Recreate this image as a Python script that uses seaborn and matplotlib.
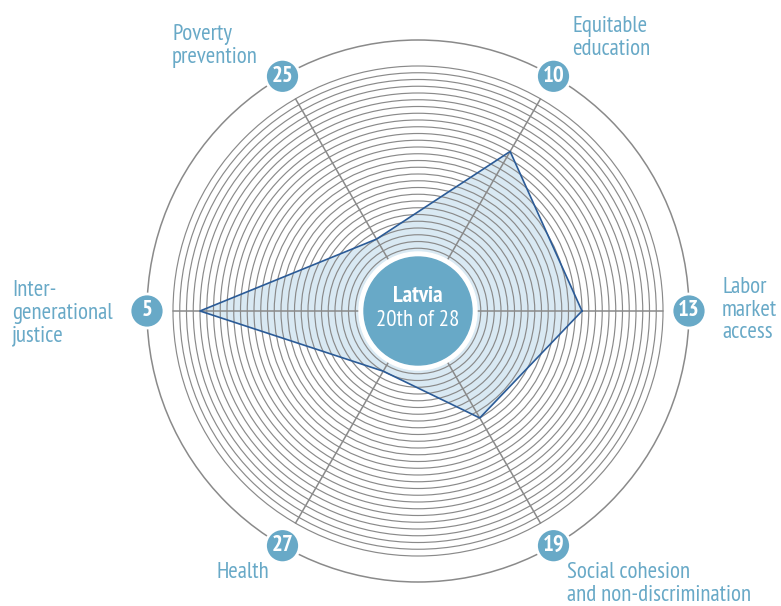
import numpy as np
import pandas as pd
import seaborn as sns
import matplotlib.pyplot as plt
from matplotlib.patches import Circle

# data
country = "Latvia"
overall = "20th of 28"
n_countries = 28
dimensions = ["Labor\nmarket\naccess", "Equitable\neducation", "Poverty\nprevention",
              "Inter-\ngenerational\njustice", "Health",
              "Social cohesion\nand non-discrimination"]
ranks = [13, 10, 25, 5, 27, 19]

BLUE = "#68a9c7"
DARK = "#2b5b97"
FILL = "#d9e9f3"
GRID = "#8a8a8a"

sns.set_theme(style="white")
plt.rcParams['font.family'] = ['PT Sans Narrow', 'DejaVu Sans']

cx, cy = 418, 311          # centre in pixels
r0, step = 56, 6.75        # ring radius = r0 + step * (n+1-rank)
r_outer = 271


def radius(rank):
    return r0 + step * (n_countries + 1 - rank)


angles = np.deg2rad(np.arange(len(ranks)) * 60)

fig = plt.figure(figsize=(7.81, 6.06), dpi=100)
ax = fig.add_axes([0, 0, 1, 1])
ax.set_xlim(0, 781)
ax.set_ylim(606, 0)
ax.axis('off')

# polygon fill
df = pd.DataFrame({'dim': dimensions, 'rank': ranks, 'angle': angles})
df['r'] = radius(df['rank'])
df['x'] = cx + df['r'] * np.cos(df['angle'])
df['y'] = cy - df['r'] * np.sin(df['angle'])
closed = pd.concat([df, df.iloc[:1]], ignore_index=True)
ax.fill(df['x'], df['y'], color=FILL, zorder=1, lw=0)

# rings
for rk in range(1, n_countries + 1):
    ax.add_patch(Circle((cx, cy), radius(rk), fill=False, ec=GRID, lw=0.85, zorder=2))
ax.add_patch(Circle((cx, cy), r_outer, fill=False, ec=GRID, lw=1.1, zorder=2))

# spokes
for a in angles:
    ax.plot([cx, cx + radius(1) * np.cos(a)], [cy, cy - radius(1) * np.sin(a)],
            color=GRID, lw=1.1, zorder=2)

# polygon outline
sns.lineplot(data=closed, x='x', y='y', sort=False, estimator=None, color=DARK,
             lw=1.2, ax=ax, zorder=4)

# centre badge
ax.add_patch(Circle((cx, cy), 59, color='white', zorder=5))
ax.add_patch(Circle((cx, cy), 54, color=BLUE, zorder=6))
ax.text(cx, cy - 14, country, color='white', fontsize=16.5, fontweight='bold',
        ha='center', va='center', zorder=7)
ax.text(cx, cy + 10, overall, color='white', fontsize=16.5,
        ha='center', va='center', zorder=7)

# rank badges
for a, rk in zip(angles, ranks):
    bx, by = cx + r_outer * np.cos(a), cy - r_outer * np.sin(a)
    ax.add_patch(Circle((bx, by), 17, fc=BLUE, ec='white', lw=2, zorder=8))
    ax.text(bx, by, str(rk), color='white', fontsize=16.5, fontweight='bold',
            ha='center', va='center', zorder=9)

# dimension labels
label_pos = [(722, 310), (572, 38), (172, 46), (12, 313), (217, 573), (567, 584)]
for (lx, ly), name in zip(label_pos, dimensions):
    ax.text(lx, ly, name, color=BLUE, fontsize=16.5, ha='left', va='center',
            linespacing=1.1, zorder=9)

if ax.get_legend():
    ax.get_legend().remove()

plt.savefig('out.png', dpi=100)
